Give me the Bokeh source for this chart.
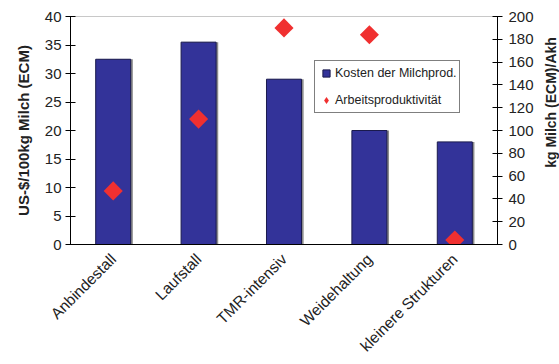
import numpy as np
from bokeh.plotting import figure
from bokeh.models import (ColumnDataSource, Range1d, LinearAxis, FixedTicker,
                          FactorRange, Legend, LegendItem, Label)
from bokeh.transform import dodge
from bokeh.embed import file_html
from bokeh.resources import INLINE

categories = ["Anbindestall", "Laufstall", "TMR-intensiv", "Weidehaltung", "kleinere Strukturen"]
kosten = [32.5, 35.5, 29.0, 20.0, 18.0]
arbeitsprod = [47, 110, 190, 184, 4]
left_ticks = [0, 5, 10, 15, 20, 25, 30, 35, 40]
right_ticks = [0, 20, 40, 60, 80, 100, 120, 140, 160, 180, 200]

src = ColumnDataSource(dict(cat=categories, kosten=kosten, ap=arbeitsprod))

FONT = "Liberation Sans"
BLUE = "#333399"
RED = "#f03030"

p = figure(width=559, height=364, x_range=FactorRange(*categories, range_padding=0),
           y_range=Range1d(0, 40), output_backend="svg", toolbar_location=None,
           min_border_left=70, min_border_right=62, min_border_top=16,
           min_border_bottom=120)
p.extra_y_ranges = {"right": Range1d(0, 200)}
p.xgrid.visible = False
p.ygrid.visible = False
p.outline_line_color = "#c8c8c8"
p.background_fill_color = "white"

# shadow
p.vbar(x=dodge("cat", 0.025, range=p.x_range), top="kosten", width=0.41, source=src,
       fill_color="#8c8c8c", line_color=None)
p.vbar(x="cat", top="kosten", width=0.41, source=src,
       fill_color=BLUE, line_color="#1a1a4d", line_width=1)
p.scatter(x="cat", y="ap", source=src, y_range_name="right", marker="square",
          angle=np.pi / 4, size=13.5, fill_color=RED, line_color=None)

# legend glyph renderers (zero-size markers, only drawn in the legend)
leg_bar = p.scatter(x="cat", y="kosten", source=src, marker="square", size=0,
                    fill_color=BLUE, line_color="#1a1a4d", line_width=1)
leg_pt = p.scatter(x="cat", y="ap", source=src, y_range_name="right", marker="diamond",
                   size=0, fill_color=RED, line_color=None)

ya = p.yaxis[0]
ya.ticker = FixedTicker(ticks=left_ticks)
ya.axis_label = "US-$/100kg Milch (ECM)"

ra = LinearAxis(y_range_name="right", ticker=FixedTicker(ticks=right_ticks))
p.add_layout(ra, "right")

for ax in (ya, ra):
    ax.major_tick_in = 5
    ax.major_tick_out = 5
    ax.minor_tick_line_color = None
    ax.axis_line_color = "black"
    ax.major_tick_line_color = "black"
    ax.major_label_text_font = FONT
    ax.major_label_text_font_size = "15px"
    ax.major_label_text_color = "#222222"
    ax.axis_label_text_font = FONT
    ax.axis_label_text_font_size = "15px"
    ax.axis_label_text_font_style = "bold"
    ax.axis_label_text_color = "#222222"
ya.major_label_standoff = 4
ra.major_label_standoff = 6
ya.axis_label_standoff = 10

right_title = Label(x=14, y=142, x_units="screen", y_units="screen",
                    text="kg Milch (ECM)/Akh", angle=np.pi / 2,
                    text_align="center", text_baseline="middle",
                    text_font=FONT, text_font_size="14px", text_font_style="bold",
                    text_color="#222222")
p.add_layout(right_title, "right")

xa = p.xaxis[0]
xa.major_label_orientation = np.pi / 4
xa.major_tick_line_color = None
xa.major_tick_out = 0
xa.major_tick_in = 0
xa.axis_line_color = "black"
xa.major_label_text_font = FONT
xa.major_label_text_font_size = "15.5px"
xa.major_label_text_color = "#222222"
xa.major_label_standoff = 12

legend = Legend(items=[LegendItem(label="Kosten der Milchprod.", renderers=[leg_bar]),
                       LegendItem(label="Arbeitsproduktivität", renderers=[leg_pt])],
                location=(244, 131))
legend.border_line_color = "black"
legend.border_line_width = 1
legend.label_text_font = FONT
legend.label_text_font_size = "12.5px"
legend.label_text_color = "#222222"
legend.glyph_width = 18
legend.glyph_height = 20
legend.label_standoff = 0
legend.padding = 2
legend.spacing = 7
legend.label_height = 14
legend.margin = 0
legend.background_fill_alpha = 1
p.add_layout(legend, "center")

open("out.html", "w").write(file_html(p, INLINE))
